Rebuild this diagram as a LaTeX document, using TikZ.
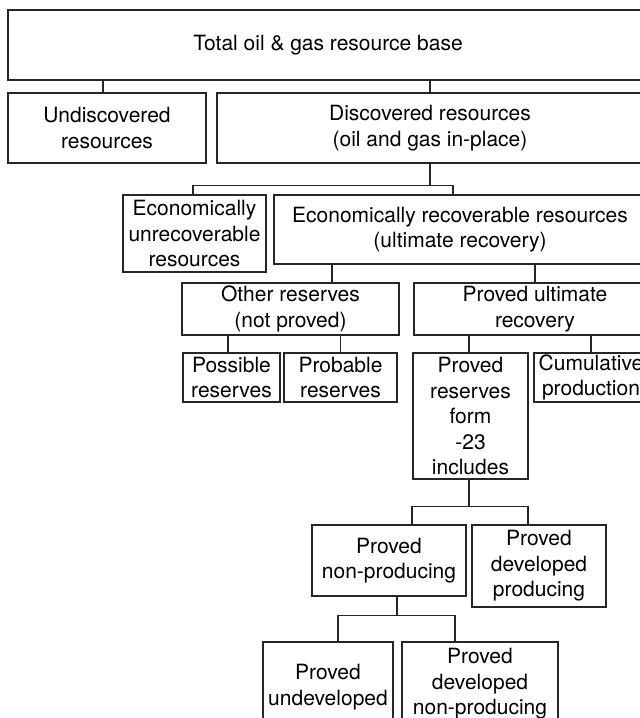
\documentclass[tikz,border=0pt]{standalone}
\usepackage{fontspec}
\setmainfont{TeX Gyre Heros}
\usepackage{tikz}
\usetikzlibrary{positioning,calc}

\begin{document}
\begin{tikzpicture}[
  x=1pt, y=-1pt,
  box/.style={draw=black!85, line width=1.1pt, inner sep=0pt,
              align=center, font=\fontsize{21}{25.5}\selectfont},
  link/.style={line width=1.1pt, black!85},
]
\path[use as bounding box] (0,0) rectangle (640,718);
\clip (0,0) rectangle (640,718);

% Row 0: whole resource base
\node[box, minimum width=640pt, minimum height=70pt] (total) at (328, 45)
  {Total oil \& gas resource base};

% Row 1: undiscovered + discovered
\node[box, minimum width=198pt, minimum height=70pt] (undisc) at (107, 128)
  {Undiscovered\\resources};
\node[box, minimum width=426pt, minimum height=70pt] (disc) at (430, 128)
  {Discovered resources\\(oil and gas in-place)};

% Row 2: economically (un)recoverable
\node[box, minimum width=143pt, minimum height=77pt] (unrec) at (194.5, 233.5)
  {Economically\\unrecoverable\\resources};
\node[box, minimum width=372pt, minimum height=69pt] (recov) at (460, 229.5)
  {Economically recoverable resources\\(ultimate recovery)};

% Row 3: other reserves + proved ultimate recovery
\node[box, minimum width=217pt, minimum height=52pt] (other) at (290.5, 309)
  {Other reserves\\(not proved)};
\node[box, minimum width=242pt, minimum height=52pt] (provult) at (535, 309)
  {Proved ultimate\\recovery};

% Row 4: possible, probable, proved reserves, cumulative
\node[box, minimum width=97pt, minimum height=49pt] (possible) at (231.5, 377.5)
  {Possible\\reserves};
\node[box, minimum width=113pt, minimum height=49pt] (probable) at (340.5, 377.5)
  {Probable\\reserves};
\node[box, minimum width=115pt, minimum height=126pt] (provres) at (470.5, 416)
  {Proved\\reserves\\form\\-23\\includes};
\node[box, minimum width=114pt, minimum height=49pt] (cumul) at (591, 377.5)
  {Cumulative\\production};

% Row 5: proved non-producing + developed producing
\node[box, minimum width=154pt, minimum height=71pt] (nonprod) at (389, 560.5)
  {Proved\\non-producing};
\node[box, minimum width=134pt, minimum height=82pt] (devprod) at (539, 566)
  {Proved\\developed\\producing};

% Row 6: undeveloped + developed non-producing
\node[box, minimum width=130pt, minimum height=90pt] (undev) at (328, 687)
  {Proved\\undeveloped};
\node[box, minimum width=156pt, minimum height=84pt] (devnon) at (480, 684)
  {Proved\\developed\\non-producing};

% Connectors
\draw[link] ([xshift=-4pt]undisc.north) -- ([xshift=-4pt]undisc.north |- total.south);
\draw[link] (disc.north) -- (disc.north |- total.south);

\draw[link] (disc.south) -- ++(0,22) coordinate (jdisc);
\draw[link] ([xshift=-1.5pt]unrec.north) |- (jdisc) -| ([xshift=-7pt]recov.north);

\draw[link] ([xshift=41.5pt]other.north) -- ([xshift=41.5pt]other.north |- recov.south);
\draw[link] (provult.north) -- (provult.north |- recov.south);

\draw[link] ([xshift=-3.5pt]possible.north) -- ([xshift=-3.5pt]possible.north |- other.south);
\draw[link] (probable.north) -- (probable.north |- other.south);
\draw[link] ([xshift=-1.5pt]provres.north) -- ([xshift=-1.5pt]provres.north |- provult.south);
\draw[link] (cumul.north) -- (cumul.north |- provult.south);

\draw[link] ([xshift=-1.5pt]provres.south) -- ++(0,27) coordinate (jres);
\draw[link] ([xshift=23pt]nonprod.north) |- (jres) -| ([xshift=-11pt]devprod.north);

\draw[link] ([xshift=8pt]nonprod.south) -- ++(0,19) coordinate (jnon);
\draw[link] ([xshift=10pt]undev.north) |- (jnon) -| ([xshift=-25pt]devnon.north);

\end{tikzpicture}
\end{document}
